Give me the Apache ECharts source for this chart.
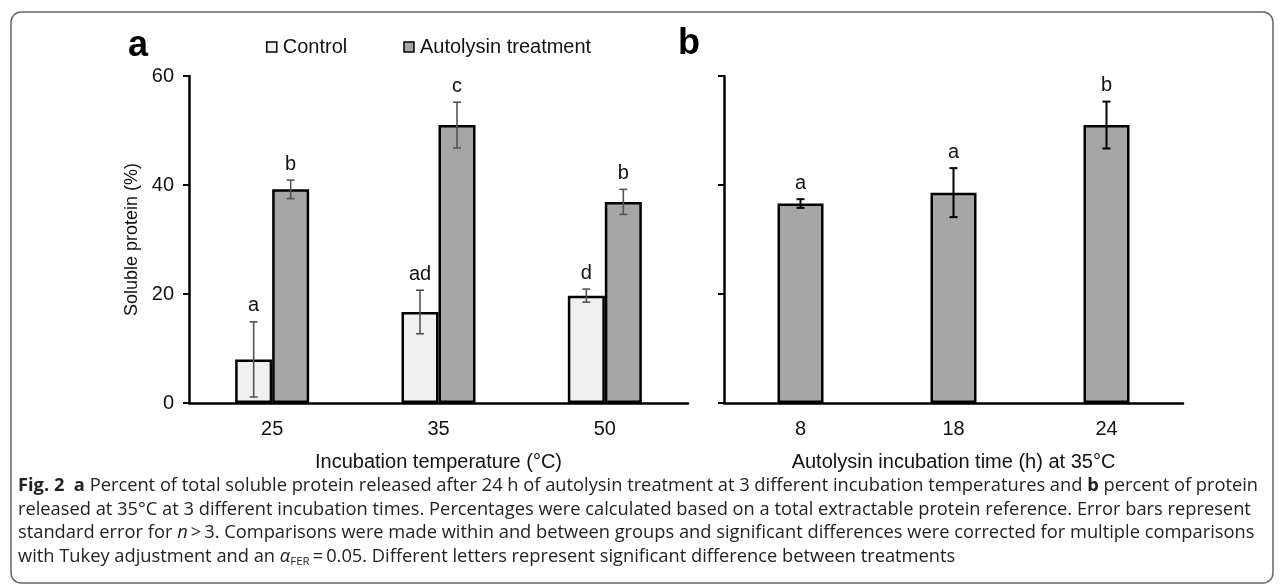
<!DOCTYPE html>
<html>
<head>
<meta charset="utf-8">
<script src="https://cdn.jsdelivr.net/npm/echarts@6/dist/echarts.min.js"></script>
<style>
html,body{margin:0;padding:0;background:#fff;}
#chart{width:1284px;height:586px;}
</style>
</head>
<body>
<div id="chart"></div>
<script>
// ---- data ----
const temps = ['25', '35', '50'];
const controlMean = [8.0, 16.7, 19.7];
const controlErr = [6.9, 4.0, 1.2];
const controlLetters = ['a', 'ad', 'd'];
const autoMean = [39.2, 51.0, 36.9];
const autoErr = [1.7, 4.2, 2.3];
const autoLetters = ['b', 'c', 'b'];
const times = ['8', '18', '24'];
const timeMean = [36.6, 38.6, 51.0];
const timeErr = [0.8, 4.5, 4.3];
const timeLetters = ['a', 'a', 'b'];
const yTicks = [0, 20, 40, 60];

const FONT = '"Liberation Sans", Arial, sans-serif';
const chart = echarts.init(document.getElementById('chart'), null, {renderer: 'canvas'});

function errSeries(name, means, errs, letters, gi, offset, color, lw) {
  return {
    type: 'custom',
    name: name,
    xAxisIndex: gi, yAxisIndex: gi,
    z: 10,
    silent: true,
    data: means.map((m, i) => [i, m, errs[i]]),
    renderItem: function (params, api) {
      const i = api.value(0), m = api.value(1), e = api.value(2);
      const top = api.coord([i, m + e]);
      const bot = api.coord([i, m - e]);
      const x = top[0] + offset;
      const cap = 4;
      const st = {stroke: color, lineWidth: lw};
      return {
        type: 'group',
        children: [
          {type: 'line', shape: {x1: x, y1: top[1], x2: x, y2: bot[1]}, style: st},
          {type: 'line', shape: {x1: x - cap, y1: top[1], x2: x + cap, y2: top[1]}, style: st},
          {type: 'line', shape: {x1: x - cap, y1: bot[1], x2: x + cap, y2: bot[1]}, style: st},
          {type: 'text', x: x, y: top[1] - 6, style: {
            text: letters[params.dataIndex], fill: '#111', font: '20px ' + FONT,
            textAlign: 'center', textVerticalAlign: 'bottom'}}
        ]
      };
    }
  };
}

const yAxisCommon = {
  type: 'value', min: 0, max: 60, interval: 20,
  splitLine: {show: false},
  axisLine: {show: true, lineStyle: {color: '#000', width: 2.5}},
  axisTick: {show: true, inside: false, length: 6, lineStyle: {color: '#000', width: 2}},
};
const xAxisCommon = {
  type: 'category',
  axisLine: {show: true, onZero: true, lineStyle: {color: '#000', width: 2.5}},
  axisTick: {show: false},
  axisLabel: {color: '#111', fontSize: 20, fontFamily: FONT, margin: 16},
  nameLocation: 'middle',
  nameGap: 49,
  nameTextStyle: {color: '#111', fontSize: 20, fontFamily: FONT}
};

const caption = [
  '{b|Fig. 2}  {b|a} Percent of total soluble protein released after 24 h of autolysin treatment at 3 different incubation temperatures and {b|b} percent of protein',
  'released at 35°C at 3 different incubation times. Percentages were calculated based on a total extractable protein reference. Error bars represent',
  'standard error for {i|n}\u2009>\u20093. Comparisons were made within and between groups and significant differences were corrected for multiple comparisons',
  'with Tukey adjustment and an {i|α}{sub|FER}\u2009=\u20090.05. Different letters represent significant difference between treatments'
];
const capFont = '"Open Sans", Lato, sans-serif';
const capSize = 18.3;
const capRich = {
  b: {fontWeight: 'bold', fontSize: capSize, fontFamily: capFont, fill: '#222'},
  i: {fontStyle: 'italic', fontSize: capSize, fontFamily: capFont, fill: '#222'},
  sub: {fontStyle: 'normal', fontSize: 11.5, fontFamily: capFont, padding: [10, 0, 0, 0], fill: '#222'}
};

const option = {
  backgroundColor: '#fff',
  animation: false,
  grid: [
    {left: 189, right: 1284 - 688, top: 76, bottom: 586 - 403},
    {left: 724, right: 1284 - 1183, top: 76, bottom: 586 - 403}
  ],
  legend: {
    data: ['Control', 'Autolysin treatment'],
    left: 266, top: 37,
    itemWidth: 10, itemHeight: 10, itemGap: 56,
    icon: 'rect',
    padding: 0,
    itemStyle: {borderColor: '#000', borderWidth: 1.5},
    textStyle: {fontSize: 20, fontFamily: FONT, color: '#111', padding: [0, 0, 0, 1]}
  },
  xAxis: [
    Object.assign({}, xAxisCommon, {gridIndex: 0, data: temps, name: 'Incubation temperature (°C)'}),
    Object.assign({}, xAxisCommon, {gridIndex: 1, data: times, name: 'Autolysin incubation time (h) at 35°C'})
  ],
  yAxis: [
    Object.assign({}, yAxisCommon, {gridIndex: 0,
      axisLabel: {show: true, color: '#111', fontSize: 20, fontFamily: FONT, margin: 15},
      name: 'Soluble protein (%)', nameLocation: 'middle', nameGap: 48, nameRotate: 90,
      nameTextStyle: {color: '#111', fontSize: 18, fontFamily: FONT}}),
    Object.assign({}, yAxisCommon, {gridIndex: 1, axisLabel: {show: false}})
  ],
  series: [
    {type: 'bar', name: 'Control', xAxisIndex: 0, yAxisIndex: 0, data: controlMean,
      barWidth: 37, barGap: '0%',
      itemStyle: {color: '#f0f0f0', borderColor: '#000', borderWidth: 2.5}},
    {type: 'bar', name: 'Autolysin treatment', xAxisIndex: 0, yAxisIndex: 0, data: autoMean,
      barWidth: 37, barGap: '0%',
      itemStyle: {color: '#a6a6a6', borderColor: '#000', borderWidth: 2.5}},
    {type: 'bar', name: 'Time', xAxisIndex: 1, yAxisIndex: 1, data: timeMean,
      barWidth: 46,
      itemStyle: {color: '#a6a6a6', borderColor: '#000', borderWidth: 2.5}},
    errSeries('errC', controlMean, controlErr, controlLetters, 0, -18.5, '#555', 1.6),
    errSeries('errA', autoMean, autoErr, autoLetters, 0, 18.5, '#555', 1.6),
    errSeries('errT', timeMean, timeErr, timeLetters, 1, 0, '#000', 2)
  ],
  graphic: [
    {type: 'rect', shape: {x: 11, y: 12, width: 1262, height: 571, r: 10},
      style: {fill: 'none', stroke: '#666', lineWidth: 1.5}, z: 0},
    {type: 'text', left: 128, top: 28, style: {text: 'a', font: 'bold 36px ' + FONT, fill: '#000'}},
    {type: 'text', left: 678, top: 26, style: {text: 'b', font: 'bold 36px ' + FONT, fill: '#000'}},
  ].concat(caption.map((t, k) => ({
    type: 'text', left: 18, top: 477 + k * 23.5,
    style: {text: t, fontSize: capSize, fontFamily: capFont, fill: '#222', rich: capRich}
  })))
};
chart.setOption(option);
</script>
</body>
</html>
